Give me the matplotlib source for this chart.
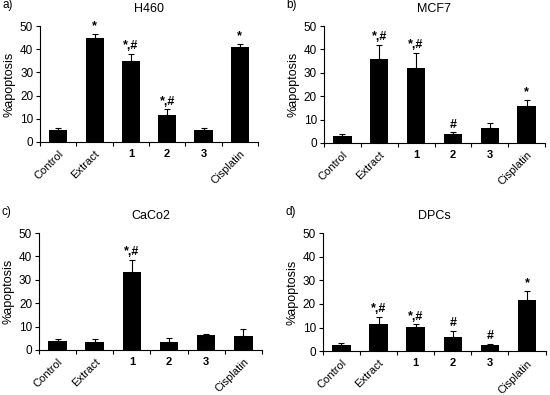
import matplotlib.pyplot as plt
import numpy as np

plt.rcParams['font.family'] = ['Liberation Sans', 'DejaVu Sans']

groups = ['Control', 'Extract', '1', '2', '3', 'Cisplatin']

h460 = [5.0, 45.0, 35.0, 11.5, 5.0, 41.0]
h460_err = [0.8, 1.5, 3.0, 2.5, 1.0, 1.2]
h460_sig = ['', '*', '*,#', '*,#', '', '*']

mcf7 = [3.2, 36.0, 32.0, 4.0, 6.2, 16.0]
mcf7_err = [0.8, 5.8, 6.5, 0.5, 2.2, 2.5]
mcf7_sig = ['', '*,#', '*,#', '#', '', '*']

caco2 = [4.0, 3.2, 33.5, 3.2, 6.5, 6.0]
caco2_err = [0.8, 1.6, 5.0, 1.8, 0.2, 3.0]
caco2_sig = ['', '', '*,#', '', '', '']

dpcs = [2.5, 11.5, 10.3, 6.2, 2.5, 21.5]
dpcs_err = [1.0, 3.0, 1.0, 2.4, 0.5, 3.8]
dpcs_sig = ['', '*,#', '*,#', '#', '#', '*']

panels = [
    ('a)', 'H460', h460, h460_err, h460_sig, [0.073, 0.641, 0.396, 0.293]),
    ('b)', 'MCF7', mcf7, mcf7_err, mcf7_sig, [0.589, 0.638, 0.402, 0.296]),
    ('c)', 'CaCo2', caco2, caco2_err, caco2_sig, [0.071, 0.114, 0.405, 0.296]),
    ('d)', 'DPCs', dpcs, dpcs_err, dpcs_sig, [0.587, 0.111, 0.405, 0.299]),
]

fig = plt.figure(figsize=(5.5, 3.95), dpi=100)

for letter, name, vals, err, sig, rect in panels:
    ax = fig.add_axes(rect)
    x = np.arange(len(groups))
    ax.bar(x, vals, width=0.5, color='black', zorder=2)
    ax.errorbar(x, vals, yerr=[np.zeros(len(err)), err], fmt='none',
                ecolor='black', elinewidth=0.8, capsize=2, capthick=0.8, zorder=1)
    for xi, v, e, s in zip(x, vals, err, sig):
        if s:
            ax.text(xi, v + e + 0.8, s, ha='center', va='bottom', fontsize=9,
                    fontweight='bold')
    ax.set_xlim(-0.5, len(groups) - 0.5)
    ax.set_ylim(0, 50)
    ax.set_yticks([0, 10, 20, 30, 40, 50])
    ax.tick_params(axis='y', labelsize=8.5, length=3, width=0.8, pad=2)
    ax.set_xticks(x)
    ax.set_xticklabels(groups, rotation=45, ha='right', rotation_mode='anchor',
                       fontsize=8)
    for lbl in ax.get_xticklabels():
        if lbl.get_text() in ('1', '2', '3'):
            lbl.set_fontweight('bold')
            lbl.set_rotation(0)
            lbl.set_ha('center')
    ax.tick_params(axis='x', length=0, pad=5)
    ax.set_xticks(np.arange(len(groups) + 1) - 0.5, minor=True)
    ax.tick_params(axis='x', which='minor', length=3, width=0.8)
    for side in ('top', 'right'):
        ax.spines[side].set_visible(False)
    ax.spines['left'].set_linewidth(0.8)
    ax.spines['bottom'].set_linewidth(0.8)
    ax.set_ylabel('%apoptosis', fontsize=9, labelpad=3)
    ax.set_title(name, fontsize=9, pad=10)
    pos = ax.get_position()
    fig.text(pos.x0 - 0.068, pos.y1 + 0.045, letter, fontsize=8.5)

fig.savefig('out.png', dpi=100)
